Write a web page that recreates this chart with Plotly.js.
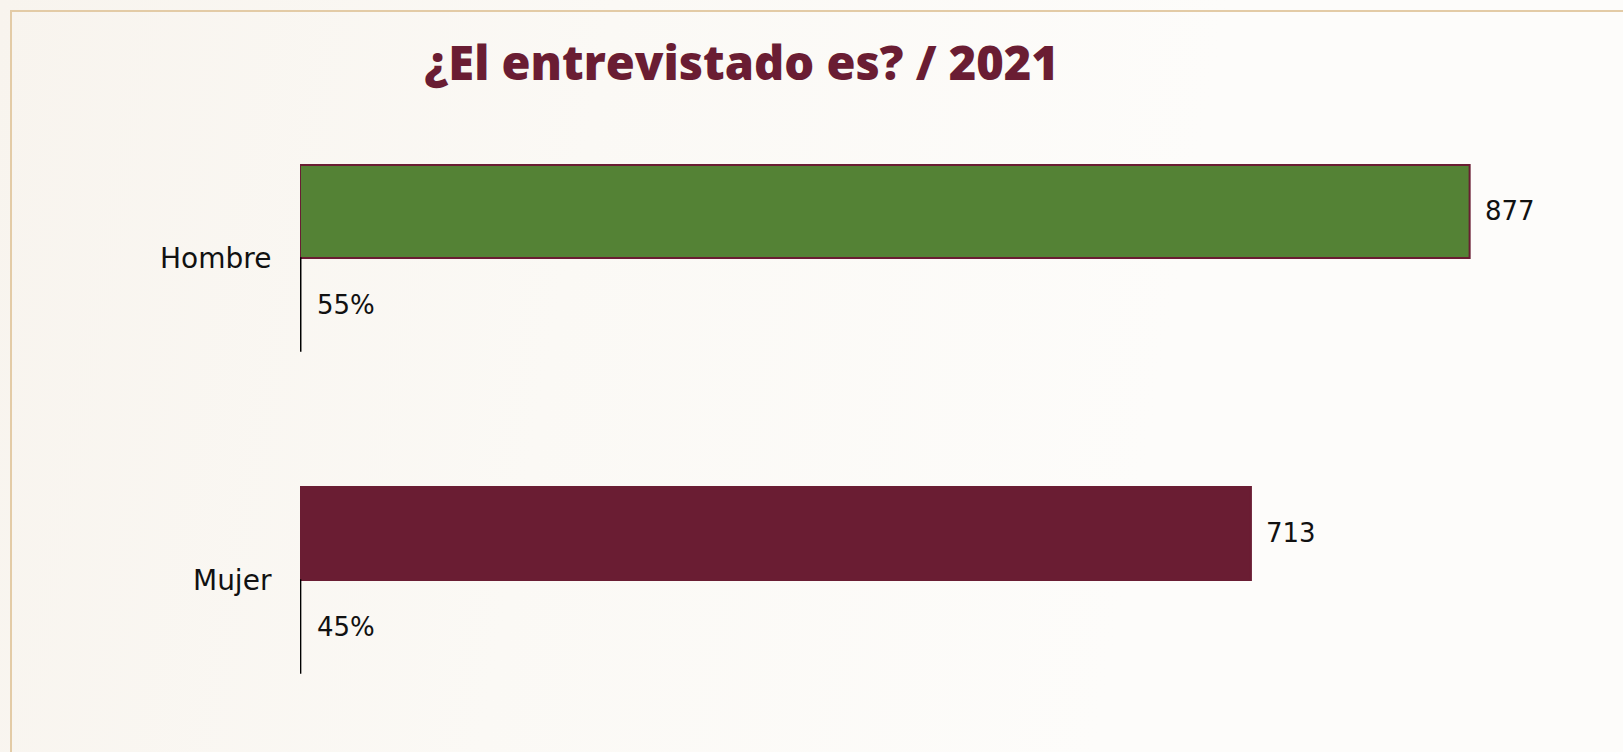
<!DOCTYPE html>
<html>
<head>
<meta charset="utf-8">
<script src="https://cdn.plot.ly/plotly-3.0.1.min.js"></script>
<style>
  html, body { margin: 0; padding: 0; }
  body {
    width: 1623px; height: 752px; overflow: hidden; position: relative;
    background: linear-gradient(100deg, #f8f4ee 0%, #fbf9f5 35%, #fdfcfa 70%, #fdfcfa 100%);
  }
  #frame {
    position: absolute; left: 10px; top: 10px; right: -5px; bottom: -5px;
    border-top: 2px solid #e3cba6; border-left: 2px solid #e3cba6;
    pointer-events: none;
  }
  #chart { position: absolute; left: 0; top: 0; width: 1623px; height: 752px; }
</style>
</head>
<body>
<div id="frame"></div>
<div id="chart"></div>
<script>
const categories = ['Hombre', 'Mujer'];
const counts = [877, 713];
const percents = [0.55, 0.45];
const percentLabels = ['55%', '45%'];
const barColors = ['#548235', '#6a1d33'];

const labelFont = { family: 'DejaVu Sans, sans-serif', size: 26, color: '#111111' };
const tickFont = { family: 'DejaVu Sans, sans-serif', size: 28, color: '#111111' };

const traces = [
  {
    type: 'bar', orientation: 'h', name: 'Entrevistados',
    y: categories, x: counts,
    marker: { color: barColors, line: { color: '#6a1d33', width: 2 } },
    hoverinfo: 'none'
  },
  {
    type: 'bar', orientation: 'h', name: 'Porcentaje',
    y: categories, x: percents,
    marker: { color: '#000000', line: { color: '#000000', width: 1.5 } },
    hoverinfo: 'none'
  }
];

const annotations = [];
categories.forEach((c, i) => {
  annotations.push({
    x: counts[i], y: c, xref: 'x', yref: 'y', text: String(counts[i]),
    showarrow: false, xanchor: 'left', yanchor: 'middle', xshift: 13, yshift: 47,
    font: labelFont
  });
  annotations.push({
    x: 0, y: c, xref: 'x', yref: 'y', text: percentLabels[i],
    showarrow: false, xanchor: 'left', yanchor: 'middle', xshift: 15, yshift: -47,
    font: labelFont
  });
});

const layout = {
  width: 1623, height: 752,
  paper_bgcolor: 'rgba(0,0,0,0)', plot_bgcolor: 'rgba(0,0,0,0)',
  margin: { l: 300, r: 56, t: 97, b: 11 },
  showlegend: false,
  barmode: 'group', bargap: 0.422, bargroupgap: 0,
  title: {
    text: '¿El entrevistado es? / 2021',
    font: { family: 'Open Sans, sans-serif', size: 47, color: '#6a1d33', weight: 800 },
    x: 0.457, xanchor: 'center', xref: 'container',
    y: 0.915, yanchor: 'middle', yref: 'container'
  },
  xaxis: {
    range: [0, 950], showgrid: false, zeroline: false, showline: false,
    showticklabels: false, ticks: ''
  },
  yaxis: {
    type: 'category', autorange: 'reversed', showgrid: false, zeroline: false,
    showline: false, ticks: 'outside', ticklen: 22, tickcolor: 'rgba(0,0,0,0)',
    tickfont: tickFont
  },
  annotations: annotations
};

Plotly.newPlot('chart', traces, layout, { staticPlot: false, displayModeBar: false });
</script>
</body>
</html>
